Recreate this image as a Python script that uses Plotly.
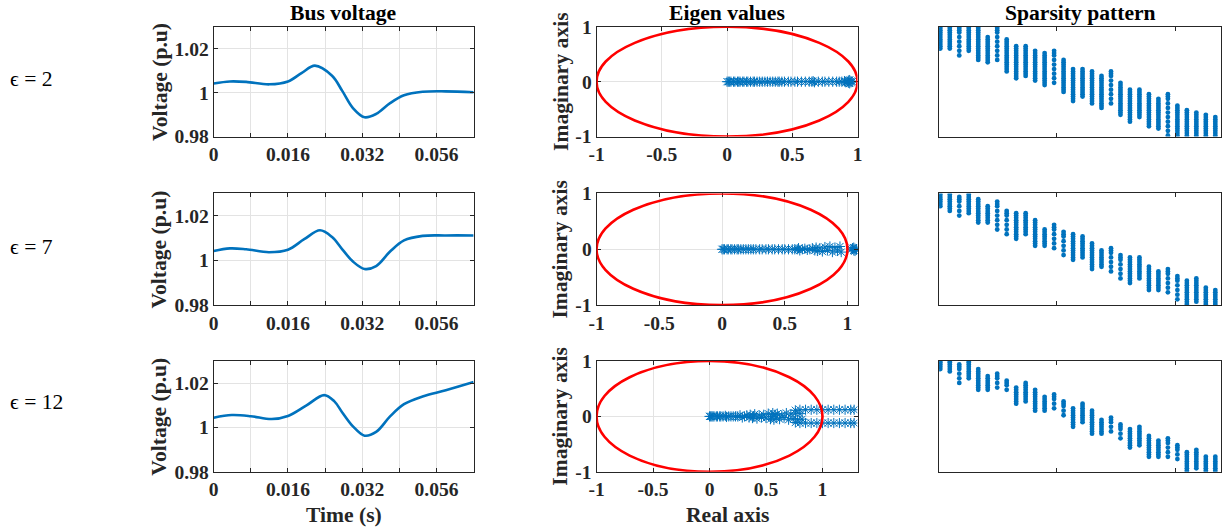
import plotly.graph_objects as go

# Window / photograph geometry (empirical): reference px = S * (figure px + O)
SX, SY = 0.982, 0.963
OX, OY = 8.0, 9.5
FW, FH = 1228, 535
FONT = "Liberation Serif"
BLUE = "#0072BD"
AX = "#262626"
GRID = "#e3e3e3"
K = 1.0 / 0.972  # size compensation

# ---------------- data ----------------
eps_labels = ["\u03f5 = 2", "\u03f5 = 7", "\u03f5 = 12"]

# Bus voltage: time (s) and voltage (p.u)
v1_t = [0, 0.0035, 0.007, 0.012, 0.016, 0.019, 0.0218, 0.0255, 0.0277, 0.030, 0.0325, 0.035, 0.038, 0.041, 0.045, 0.050, 0.056]
v1_y = [1.0042, 1.0051, 1.0049, 1.0038, 1.0051, 1.0090, 1.0123, 1.0077, 1.0008, 0.9930, 0.9888, 0.9903, 0.9952, 0.9988, 1.0004, 1.0006, 1.0002]
v2_t = [0, 0.0035, 0.007, 0.0119, 0.016, 0.0195, 0.0229, 0.0255, 0.0277, 0.030, 0.0325, 0.035, 0.038, 0.041, 0.045, 0.050, 0.056]
v2_y = [1.0042, 1.0054, 1.0050, 1.0037, 1.0048, 1.0095, 1.0135, 1.0105, 1.0050, 0.9995, 0.9962, 0.9975, 1.0040, 1.0090, 1.0110, 1.0112, 1.0112]
v3_t = [0, 0.0039, 0.008, 0.0125, 0.016, 0.020, 0.0238, 0.0260, 0.0277, 0.030, 0.0325, 0.035, 0.038, 0.041, 0.045, 0.050, 0.056]
v3_y = [1.0044, 1.0056, 1.0051, 1.0038, 1.0052, 1.0100, 1.0146, 1.0118, 1.0068, 1.0005, 0.9963, 0.9980, 1.0050, 1.0105, 1.0140, 1.0168, 1.0205]
v_xrange = [0, 0.056]
v_tickvals = [0, 0.008, 0.016, 0.024, 0.032, 0.040, 0.048]
v_ticktext = ["0", "", "0.016", "", "0.032", "", "0.056"]

# Eigenvalues
e1_re = [0.00, 0.01, 0.02, 0.03, 0.05, 0.06, 0.08, 0.09, 0.10, 0.12, 0.13, 0.15, 0.16, 0.18, 0.20, 0.21,
         0.23, 0.25, 0.27, 0.29, 0.31, 0.33, 0.35, 0.37, 0.39, 0.40, 0.42, 0.44, 0.47, 0.49, 0.52, 0.54,
         0.57, 0.60, 0.63, 0.65, 0.66, 0.67, 0.70, 0.73, 0.75, 0.78, 0.81, 0.84, 0.86, 0.88, 0.90, 0.91,
         0.92, 0.93, 0.93, 0.94, 0.94, 0.95, 0.95, 0.96]
e1_im = [0, 0, 0, 0, 0, 0, 0, 0, 0, 0, 0, 0, 0, 0, 0, 0,
         0, 0, 0, 0, 0, 0, 0, 0, 0, 0, 0, 0, 0, 0, 0, 0,
         0, 0, 0, 0, 0.01, -0.01, 0, 0, 0, 0, 0, 0, 0, 0, 0.01, -0.01,
         0, 0.02, -0.02, 0.03, -0.03, 0.01, -0.01, 0]
e2_re = [0.00, 0.01, 0.02, 0.04, 0.05, 0.07, 0.08, 0.10, 0.12, 0.13, 0.15, 0.17, 0.19, 0.21, 0.23, 0.25,
         0.27, 0.30, 0.32, 0.35, 0.37, 0.40, 0.42, 0.45, 0.48, 0.50, 0.53, 0.56, 0.58, 0.60, 0.61, 0.62,
         0.64, 0.66, 0.68, 0.70, 0.72, 0.74, 0.75, 0.76, 0.78, 0.80, 0.82, 0.84, 0.86, 0.88, 0.90, 0.92,
         0.94, 0.95, 1.03, 1.04, 1.05, 1.05, 1.06, 1.06, 1.07, 1.07]
e2_im = [0, 0, 0, 0, 0, 0, 0, 0, 0, 0, 0, 0, 0, 0, 0, 0,
         0, 0, 0, 0, 0, 0, 0, 0, 0, 0, 0, 0, 0, 0, 0.02, -0.02,
         0, 0.01, -0.01, 0, 0.02, -0.02, 0.03, -0.03, 0.02, -0.04, 0.04, -0.02, 0.05, -0.05, 0.03, -0.03,
         0.05, -0.05, 0, 0.02, -0.02, 0.03, -0.03, 0.01, -0.01, 0]
e3_re = [0.00, 0.01, 0.02, 0.03, 0.04, 0.06, 0.07, 0.09, 0.10, 0.12, 0.14, 0.15, 0.17, 0.19, 0.21, 0.23,
         0.25, 0.27, 0.29, 0.31, 0.33, 0.35, 0.36, 0.38, 0.39, 0.40, 0.42, 0.44, 0.46, 0.48, 0.50, 0.52,
         0.54, 0.55, 0.56, 0.57, 0.58, 0.59, 0.60, 0.62, 0.64, 0.66, 0.68, 0.70, 0.72, 0.74, 0.76, 0.78,
         0.80, 0.82, 0.76, 0.80, 0.85, 0.90, 0.95, 1.00, 1.05, 1.10, 1.15, 1.20, 1.25, 1.28,
         0.76, 0.80, 0.85, 0.90, 0.95, 1.00, 1.05, 1.10, 1.15, 1.20, 1.25, 1.28]
e3_im = [0, 0, 0, 0, 0, 0, 0, 0, 0, 0, 0.01, -0.01, 0, 0, 0, 0,
         0, 0.02, -0.02, 0, 0.02, -0.02, 0.03, -0.03, 0, 0.04, -0.04, 0.02, -0.02, 0.03, -0.03, 0.05,
         -0.05, 0, 0.06, -0.06, 0.03, -0.03, 0.05, -0.05, 0.02, -0.02, 0.06, -0.06, 0.04, -0.04, 0.06, -0.06,
         0.05, -0.05, 0.11, 0.12, 0.12, 0.12, 0.12, 0.12, 0.12, 0.12, 0.12, 0.12, 0.12, 0.12,
         -0.11, -0.12, -0.12, -0.12, -0.12, -0.12, -0.12, -0.12, -0.12, -0.12, -0.12, -0.12]
eig_xmax = [1.0, 1.08, 1.31]

# Sparsity pattern: column index, first/last nonzero row, dotted columns (1-based bar number)
spy_cols = [1, 5, 9, 13, 17, 21, 25, 29, 33, 37, 41, 45, 49, 53, 57, 61, 65, 69, 73, 77,
            81, 85, 89, 93, 97, 101, 105, 109, 113, 117]
s1 = [1, 1, 1, 1, 1, 5, 1, 6, 9, 9, 11, 12, 11, 15, 19, 19, 20, 22, 20, 25, 28, 28, 30, 32, 30, 35, 37, 38, 39, 40]
e1 = [10, 10, 14, 11, 15, 16, 16, 20, 23, 22, 24, 26, 26, 29, 33, 31, 34, 36, 35, 39, 42, 40, 44, 45, 48, 48, 48, 48, 48, 48]
d1 = [3, 7, 13, 19, 25]
s2 = [1, 1, 2, 1, 3, 6, 4, 8, 9, 9, 12, 16, 14, 17, 18, 19, 22, 25, 24, 27, 28, 28, 32, 34, 33, 36, 38, 37, 41, 42]
e2 = [6, 8, 10, 9, 13, 13, 16, 18, 20, 18, 23, 23, 25, 27, 29, 28, 33, 32, 35, 37, 39, 37, 42, 42, 44, 46, 48, 47, 48, 48]
d2 = [3, 7, 8, 13, 14, 19, 20, 25, 26]
s3 = [1, 1, 2, 1, 4, 7, 6, 9, 12, 10, 13, 16, 15, 18, 21, 19, 22, 26, 25, 28, 30, 29, 33, 35, 34, 37, 40, 39, 42, 42]
e3 = [4, 5, 10, 8, 13, 13, 13, 14, 19, 18, 22, 22, 22, 24, 29, 27, 32, 32, 32, 34, 38, 37, 42, 42, 42, 43, 48, 47, 48, 48]
d3 = [3, 7, 8, 13, 14, 19, 20, 25, 26]
spy_nrows = 48
spy_ncols = 119
spy_ticks = [50, 100]

# ---------------- layout geometry (reference pixels) ----------------
col_px = [(212, 470), (592, 851), (932, 1212)]
row_px = [(26, 136), (193, 305), (361, 472)]


def fx(px):
    return (px / SX - OX) / FW


def fy(py):
    return 1 - (py / SY - OY) / FH


fig = go.Figure()
tickfont = dict(family=FONT, size=19 * K, color=AX, weight=700)

volt = [(v1_t, v1_y), (v2_t, v2_y), (v3_t, v3_y)]
eigs = [(e1_re, e1_im), (e2_re, e2_im), (e3_re, e3_im)]
spys = [(s1, e1, d1), (s2, e2, d2), (s3, e3, d3)]

for r in range(3):
    base = r * 3
    for c in range(3):
        n = base + c + 1
        xa = "xaxis" if n == 1 else f"xaxis{n}"
        ya = "yaxis" if n == 1 else f"yaxis{n}"
        common = dict(showline=True, linecolor=AX, linewidth=1, mirror="ticks", ticks="inside",
                      ticklen=4, tickcolor=AX, tickfont=tickfont, zeroline=False,
                      gridcolor=GRID, gridwidth=1)
        fig.layout[xa] = dict(domain=[fx(col_px[c][0]), fx(col_px[c][1])], anchor=f"y{n}", **common)
        fig.layout[ya] = dict(domain=[fy(row_px[r][1]), fy(row_px[r][0])], anchor=f"x{n}", **common)
    xr = "x" if base == 0 else f"x{base+1}"
    yr = "y" if base == 0 else f"y{base+1}"
    # voltage
    vx, vy = volt[r]
    fig.add_trace(go.Scatter(x=vx, y=vy, mode="lines", line=dict(color=BLUE, width=2.6, shape="spline"),
                             xaxis=xr, yaxis=yr, showlegend=False))
    n1 = base + 1
    fig.layout["xaxis" if n1 == 1 else f"xaxis{n1}"].update(range=v_xrange, tickvals=v_tickvals,
                                                             ticktext=v_ticktext, showgrid=True)
    fig.layout["yaxis" if n1 == 1 else f"yaxis{n1}"].update(range=[0.98, 1.03], tickvals=[0.98, 1.0, 1.02],
                                                             ticktext=["0.98", "1", "1.02"], showgrid=True)
    # eigen
    n2 = base + 2
    er, ei = eigs[r]
    fig.add_trace(go.Scatter(x=er, y=ei, mode="markers",
                             marker=dict(symbol="asterisk-open", size=8.5, color=BLUE,
                                         line=dict(color=BLUE, width=1)),
                             xaxis=f"x{n2}", yaxis=f"y{n2}", showlegend=False))
    fig.layout[f"xaxis{n2}"].update(range=[-1, eig_xmax[r]], tickvals=[-1, -0.5, 0, 0.5, 1],
                                     ticktext=["-1", "-0.5", "0", "0.5", "1"], showgrid=True)
    fig.layout[f"yaxis{n2}"].update(range=[-1, 1], tickvals=[-1, 0, 1], ticktext=["-1", "0", "1"],
                                     showgrid=True)
    fig.add_shape(type="circle", xref=f"x{n2}", yref=f"y{n2}", x0=-1, x1=1, y0=-1, y1=1,
                  line=dict(color="#FF0000", width=2.6), layer="above")
    # sparsity
    n3 = base + 3
    ss, ee, dd = spys[r]
    sx, sy = [], []
    for i, col in enumerate(spy_cols):
        if (i + 1) in dd:
            rows = list(range(ss[i], min(ss[i] + 3, ee[i] + 1))) + list(range(ss[i] + 4, ee[i] + 1, 2))
        else:
            rows = list(range(ss[i], ee[i] + 1))
        sx += [col] * len(rows)
        sy += rows
    fig.add_trace(go.Scatter(x=sx, y=sy, mode="markers", marker=dict(symbol="circle", size=4.8, color=BLUE),
                             xaxis=f"x{n3}", yaxis=f"y{n3}", showlegend=False))
    fig.layout[f"xaxis{n3}"].update(range=[0.5, spy_ncols + 0.5], tickvals=spy_ticks, showticklabels=False,
                                     showgrid=False)
    fig.layout[f"yaxis{n3}"].update(range=[spy_nrows + 0.5, 0.5], ticks="", showticklabels=False,
                                     showgrid=False)

ann = []
titlefont = dict(family=FONT, size=21 * K, color="#000000", weight=700)
labfont = dict(family=FONT, size=21 * K, color=AX, weight=700)


def add_ann(text, px, py, font, angle=0, xanchor="center"):
    ann.append(dict(text=text, x=fx(px), y=fy(py), xref="paper", yref="paper", showarrow=False,
                    textangle=angle, font=font, xanchor=xanchor, yanchor="middle"))


for txt, c in [("Bus voltage", 0), ("Eigen values", 1), ("Sparsity pattern", 2)]:
    add_ann(txt, (col_px[c][0] + col_px[c][1]) / 2, 12, titlefont)
for r in range(3):
    cy = (row_px[r][0] + row_px[r][1]) / 2
    add_ann("Voltage (p.u)", 158, cy, labfont, angle=-90)
    add_ann("Imaginary axis", 556, cy, labfont, angle=-90)
eps_y = [78, 247, 402]
for r in range(3):
    add_ann(eps_labels[r], 8, eps_y[r], dict(family=FONT, size=21 * K, color="#000000"), xanchor="left")
add_ann("Time (s)", (col_px[0][0] + col_px[0][1]) / 2, 515, labfont)
add_ann("Real axis", 722, 515, labfont)

fig.update_layout(width=FW, height=FH, margin=dict(l=0, r=0, t=0, b=0), paper_bgcolor="white",
                  plot_bgcolor="white", annotations=ann, showlegend=False)
fig.write_html("out.html")
